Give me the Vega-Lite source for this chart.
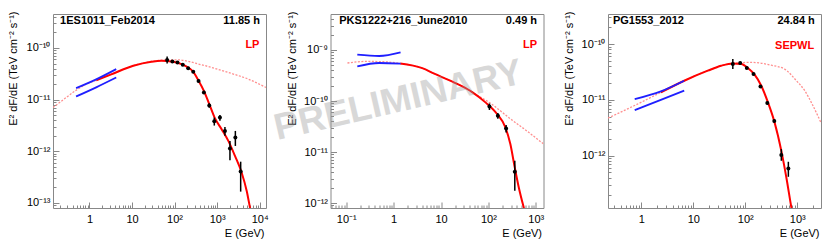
{
"$schema":"https://vega.github.io/schema/vega-lite/v6.json",
"background":"white",
"padding":{"left":6,"top":10,"right":2,"bottom":2},
"bounds":"flush",
"spacing":64.5,
"config":{"font":"Liberation Sans","view":{"stroke":"#888888","strokeWidth":1},
"axis":{"grid":false,"domain":false,"labelFont":"Liberation Sans","labelFontSize":11,"labelColor":"#000000","titleFont":"Liberation Sans","titleFontSize":11,"titleFontWeight":"normal","titleColor":"#000000","tickColor":"#888888","tickWidth":1,"labelFlush":false,"labelOverlap":false}},
"datasets":{
"pts1":[{"E":66.9,"F":5.83e-11,"lo":5.01e-11,"hi":6.84e-11},{"E":89,"F":5.47e-11,"lo":5.2e-11,"hi":5.75e-11},{"E":117,"F":5.23e-11,"lo":5.0e-11,"hi":5.45e-11},{"E":156,"F":4.72e-11,"lo":4.5e-11,"hi":4.95e-11},{"E":209,"F":4.07e-11,"lo":3.88e-11,"hi":4.27e-11},{"E":275,"F":3.46e-11,"lo":3.28e-11,"hi":3.65e-11},{"E":366,"F":2.29e-11,"lo":2.15e-11,"hi":2.44e-11},{"E":489,"F":1.38e-11,"lo":1.28e-11,"hi":1.49e-11},{"E":654,"F":7.7e-12,"lo":7.0e-12,"hi":8.5e-12},{"E":859,"F":3.83e-12,"lo":3.15e-12,"hi":4.5e-12},{"E":1165,"F":4.5e-12,"lo":3.89e-12,"hi":5.07e-12},{"E":1528,"F":2.48e-12,"lo":2.0e-12,"hi":2.97e-12},{"E":2004,"F":1.13e-12,"lo":6.7e-13,"hi":1.59e-12},{"E":2685,"F":1.85e-12,"lo":1.27e-12,"hi":2.48e-12},{"E":3580,"F":4.05e-13,"lo":1.66e-13,"hi":6.3e-13}],
"intr1":[{"E":0.139,"F":7.03e-12},{"E":0.24,"F":9.9e-12},{"E":0.493,"F":1.53e-11},{"E":0.849,"F":2.0e-11},{"E":1.46,"F":2.39e-11},{"E":5.21,"F":3.61e-11},{"E":10.7,"F":4.52e-11},{"E":49,"F":5.78e-11},{"E":111,"F":5.9e-11},{"E":431,"F":4.72e-11},{"E":1836,"F":3.35e-11},{"E":5445,"F":2.49e-11},{"E":14100,"F":1.72e-11}],
"abs1":[{"E":1.44,"F":2.37e-11},{"E":3.25,"F":3.09e-11},{"E":10.7,"F":4.52e-11},{"E":28.5,"F":5.41e-11},{"E":49.1,"F":5.65e-11},{"E":84.5,"F":5.47e-11},{"E":145.5,"F":4.88e-11},{"E":209,"F":4.19e-11},{"E":275,"F":3.46e-11},{"E":360,"F":2.39e-11},{"E":489,"F":1.48e-11},{"E":655,"F":8.18e-12},{"E":887,"F":4.38e-12},{"E":1276,"F":2.68e-12},{"E":1836,"F":1.59e-12},{"E":2630,"F":8.15e-13},{"E":3784,"F":3.86e-13},{"E":4966,"F":1.71e-13},{"E":5940,"F":8.1e-14},{"E":6510,"F":5.6e-14}],
"lat1":[{"E":0.485,"F":1.67e-11,"edge":"upper"},{"E":1.44,"F":2.47e-11,"edge":"upper"},{"E":4.26,"F":3.9e-11,"edge":"upper"},{"E":0.485,"F":1.15e-11,"edge":"lower"},{"E":1.44,"F":1.73e-11,"edge":"lower"},{"E":4.26,"F":2.68e-11,"edge":"lower"}],
"pts2":[{"E":105,"F":7.83e-11,"lo":6.67e-11,"hi":8.97e-11},{"E":158,"F":5.15e-11,"lo":4.5e-11,"hi":5.82e-11},{"E":236,"F":2.9e-11,"lo":2.42e-11,"hi":3.38e-11},{"E":360,"F":4.11e-12,"lo":1.74e-12,"hi":6.74e-12}],
"intr2":[{"E":0.106,"F":5.56e-10},{"E":0.258,"F":5.97e-10},{"E":0.578,"F":5.9e-10},{"E":1.38,"F":5.43e-10},{"E":4.02,"F":4.4e-10},{"E":7.19,"F":3.43e-10},{"E":15.6,"F":2.5e-10},{"E":35.6,"F":1.72e-10},{"E":45.4,"F":1.49e-10},{"E":120,"F":8.55e-11},{"E":290,"F":4.47e-11},{"E":653,"F":2.57e-11},{"E":1452,"F":1.44e-11}],
"abs2":[{"E":1.38,"F":5.43e-10},{"E":4.02,"F":4.4e-10},{"E":7.19,"F":3.43e-10},{"E":15.6,"F":2.5e-10},{"E":35.6,"F":1.72e-10},{"E":45.4,"F":1.49e-10},{"E":86.5,"F":9.4e-11},{"E":152,"F":5.56e-11},{"E":228,"F":3.04e-11},{"E":290,"F":1.43e-11},{"E":359,"F":4.99e-12},{"E":437,"F":2.02e-12},{"E":556,"F":8.2e-13},{"E":622,"F":5.6e-13}],
"lat2":[{"E":0.171,"F":8.08e-10,"edge":"upper"},{"E":0.493,"F":7.62e-10,"edge":"upper"},{"E":1.4,"F":8.97e-10,"edge":"upper"},{"E":0.171,"F":4.76e-10,"edge":"lower"},{"E":0.493,"F":5.56e-10,"edge":"lower"},{"E":1.4,"F":5.41e-10,"edge":"lower"}],
"pts3":[{"E":57.6,"F":4.38e-11,"lo":3.56e-11,"hi":5.38e-11},{"E":79.8,"F":4.56e-11,"lo":4.3e-11,"hi":4.8e-11},{"E":107,"F":3.71e-11,"lo":3.55e-11,"hi":3.88e-11},{"E":144,"F":2.9e-11,"lo":2.77e-11,"hi":3.03e-11},{"E":196,"F":1.74e-11,"lo":1.65e-11,"hi":1.83e-11},{"E":265,"F":8.77e-12,"lo":8.3e-12,"hi":9.3e-12},{"E":361,"F":4.17e-12,"lo":3.9e-12,"hi":4.45e-12},{"E":493,"F":1.03e-12,"lo":8.1e-13,"hi":1.31e-12},{"E":673,"F":5.9e-13,"lo":4.19e-13,"hi":7.78e-13}],
"intr3":[{"E":0.2296,"F":4.72e-12},{"E":0.726,"F":7.83e-12},{"E":2.38,"F":1.36e-11},{"E":6.7,"F":2.2e-11},{"E":19,"F":3.33e-11},{"E":57.6,"F":4.53e-11},{"E":130,"F":4.69e-11},{"E":316,"F":4.17e-11},{"E":571,"F":3.56e-11},{"E":962,"F":2.2e-11},{"E":1390,"F":1.46e-11},{"E":1958,"F":8.17e-12},{"E":2855,"F":3.9e-12}],
"abs3":[{"E":2.38,"F":1.36e-11},{"E":6.7,"F":2.2e-11},{"E":19,"F":3.33e-11},{"E":34.3,"F":4.08e-11},{"E":57.6,"F":4.49e-11},{"E":83.4,"F":4.38e-11},{"E":112,"F":3.72e-11},{"E":151,"F":2.82e-11},{"E":203,"F":1.79e-11},{"E":273,"F":8.98e-12},{"E":366,"F":3.93e-12},{"E":493,"F":1.22e-12},{"E":616,"F":4.07e-13},{"E":769,"F":1.18e-13},{"E":822,"F":8.4e-14}],
"lat3":[{"E":0.749,"F":1.03e-11,"edge":"upper"},{"E":2.38,"F":1.42e-11,"edge":"upper"},{"E":6.7,"F":2.2e-11,"edge":"upper"},{"E":0.749,"F":6.56e-12,"edge":"lower"},{"E":2.38,"F":1.0e-11,"edge":"lower"},{"E":6.7,"F":1.46e-11,"edge":"lower"}],
"info1":[{"name":"1ES1011_Feb2014","time":"11.85 h","model":"LP"}],
"info2":[{"name":"PKS1222+216_June2010","time":"0.49 h","model":"LP"}],
"info3":[{"name":"PG1553_2012","time":"24.84 h","model":"SEPWL"}],
"wm":[{"t":"PRELIMINARY"}]
},
"hconcat":[
{"width":213,"height":194,"resolve":{"axis":{"x":"independent","y":"independent"}},
"layer":[
{"data":{"name":"intr1"},"mark":{"type":"line","clip":true,"color":"#ff8f8f","strokeWidth":1.3,"strokeDash":[2,1.5],"interpolate":"monotone"},
"encoding":{"x":{"field":"E","type":"quantitative","scale":{"type":"log","domain":[0.139,14100],"nice":false},"axis":{"orient":"bottom","values":[1,10,100,1000,10000],"tickSize":-6,"labels":false,"title":null}},
"y":{"field":"F","type":"quantitative","scale":{"type":"log","domain":[8.0e-14,4.54e-10],"nice":false},"axis":{"orient":"left","values":[1e-13,1e-12,1e-11,1e-10],"tickSize":-6,"labels":false,"title":null}}}},
{"data":{"name":"abs1"},"mark":{"type":"line","clip":true,"color":"#ff0000","strokeWidth":2,"interpolate":"monotone"},
"encoding":{"x":{"field":"E","type":"quantitative","scale":{"type":"log","domain":[0.139,14100],"nice":false},"axis":{"orient":"bottom","values":[0.2,0.3,0.4,0.5,0.6,0.7,0.8,0.9,2,3,4,5,6,7,8,9,20,30,40,50,60,70,80,90,200,300,400,500,600,700,800,900,2000,3000,4000,5000,6000,7000,8000,9000],"tickSize":-3,"labels":false,"title":null}},
"y":{"field":"F","type":"quantitative","scale":{"type":"log","domain":[8.0e-14,4.54e-10],"nice":false},"axis":{"orient":"left","values":[9e-14,2e-13,3e-13,4e-13,5e-13,6e-13,7e-13,8e-13,9e-13,2e-12,3e-12,4e-12,5e-12,6e-12,7e-12,8e-12,9e-12,2e-11,3e-11,4e-11,5e-11,6e-11,7e-11,8e-11,9e-11,2e-10,3e-10,4e-10],"tickSize":-3,"labels":false,"title":null}}}},
{"data":{"name":"lat1"},"mark":{"type":"line","clip":true,"color":"#1f1fff","strokeWidth":1.8,"interpolate":"monotone"},
"encoding":{"x":{"field":"E","type":"quantitative","scale":{"type":"log","domain":[0.139,14100],"nice":false},"axis":null},
"y":{"field":"F","type":"quantitative","scale":{"type":"log","domain":[8.0e-14,4.54e-10],"nice":false},"axis":null},"detail":{"field":"edge"}}},
{"data":{"name":"pts1"},"mark":{"type":"rule","clip":true,"color":"#000000","strokeWidth":1.5},
"encoding":{"x":{"field":"E","type":"quantitative","scale":{"type":"log","domain":[0.139,14100],"nice":false},"axis":null},
"y":{"field":"lo","type":"quantitative","scale":{"type":"log","domain":[8.0e-14,4.54e-10],"nice":false},"axis":null},"y2":{"field":"hi"}}},
{"data":{"name":"pts1"},"mark":{"type":"point","filled":true,"color":"#000000","size":16,"opacity":1,"clip":true},
"encoding":{"x":{"field":"E","type":"quantitative","scale":{"type":"log","domain":[0.139,14100],"nice":false},"axis":{"orient":"bottom","values":[1,10,100,1000,10000],"ticks":false,"labelPadding":5,"labelExpr":"datum.value < 5 ? '1' : datum.value < 50 ? '10' : datum.value < 500 ? '10²' : datum.value < 5000 ? '10³' : '10⁴'","title":"E (GeV)","titleAlign":"right","titleX":211,"titleY":25,"titleBaseline":"middle"}},
"y":{"field":"F","type":"quantitative","scale":{"type":"log","domain":[8.0e-14,4.54e-10],"nice":false},"axis":{"orient":"left","values":[1e-13,1e-12,1e-11,1e-10],"ticks":false,"labelPadding":3,"labelExpr":"datum.value < 5e-13 ? '10⁻¹³' : datum.value < 5e-12 ? '10⁻¹²' : datum.value < 5e-11 ? '10⁻¹¹' : '10⁻¹⁰'","title":"E² dF/dE (TeV cm⁻² s⁻¹)","titleAngle":270,"titleAlign":"right","titleX":-40,"titleY":-3,"titleBaseline":"middle"}}}},
{"data":{"name":"info1"},"mark":{"type":"text","align":"left","baseline":"middle","fontWeight":"bold","fontSize":11,"color":"#000000"},
"encoding":{"x":{"datum":0.204,"type":"quantitative","axis":null},"y":{"datum":3.27e-10,"type":"quantitative","axis":null},"text":{"field":"name"}}},
{"data":{"name":"info1"},"mark":{"type":"text","align":"right","baseline":"middle","fontWeight":"bold","fontSize":11,"color":"#000000"},
"encoding":{"x":{"datum":10200,"type":"quantitative","axis":null},"y":{"datum":3.27e-10,"type":"quantitative","axis":null},"text":{"field":"time"}}},
{"data":{"name":"info1"},"mark":{"type":"text","align":"right","baseline":"middle","fontWeight":"bold","fontSize":11,"color":"#ff0000"},
"encoding":{"x":{"datum":9890,"type":"quantitative","axis":null},"y":{"datum":1.15e-10,"type":"quantitative","axis":null},"text":{"field":"model"}}}
]},
{"width":213,"height":194,"resolve":{"axis":{"x":"independent","y":"independent"}},
"layer":[
{"data":{"name":"intr2"},"mark":{"type":"line","clip":true,"color":"#ff8f8f","strokeWidth":1.3,"strokeDash":[2,1.5],"interpolate":"monotone"},
"encoding":{"x":{"field":"E","type":"quantitative","scale":{"type":"log","domain":[0.0465,1452],"nice":false},"axis":{"orient":"bottom","values":[0.1,1,10,100,1000],"tickSize":-6,"labels":false,"title":null}},
"y":{"field":"F","type":"quantitative","scale":{"type":"log","domain":[7.98e-13,5.08e-9],"nice":false},"axis":{"orient":"left","values":[1e-12,1e-11,1e-10,1e-9],"tickSize":-6,"labels":false,"title":null}}}},
{"data":{"name":"abs2"},"mark":{"type":"line","clip":true,"color":"#ff0000","strokeWidth":2,"interpolate":"monotone"},
"encoding":{"x":{"field":"E","type":"quantitative","scale":{"type":"log","domain":[0.0465,1452],"nice":false},"axis":{"orient":"bottom","values":[0.05,0.06,0.07,0.08,0.09,0.2,0.3,0.4,0.5,0.6,0.7,0.8,0.9,2,3,4,5,6,7,8,9,20,30,40,50,60,70,80,90,200,300,400,500,600,700,800,900],"tickSize":-3,"labels":false,"title":null}},
"y":{"field":"F","type":"quantitative","scale":{"type":"log","domain":[7.98e-13,5.08e-9],"nice":false},"axis":{"orient":"left","values":[9e-13,2e-12,3e-12,4e-12,5e-12,6e-12,7e-12,8e-12,9e-12,2e-11,3e-11,4e-11,5e-11,6e-11,7e-11,8e-11,9e-11,2e-10,3e-10,4e-10,5e-10,6e-10,7e-10,8e-10,9e-10,2e-9,3e-9,4e-9,5e-9],"tickSize":-3,"labels":false,"title":null}}}},
{"data":{"name":"lat2"},"mark":{"type":"line","clip":true,"color":"#1f1fff","strokeWidth":1.8,"interpolate":"monotone"},
"encoding":{"x":{"field":"E","type":"quantitative","scale":{"type":"log","domain":[0.0465,1452],"nice":false},"axis":null},
"y":{"field":"F","type":"quantitative","scale":{"type":"log","domain":[7.98e-13,5.08e-9],"nice":false},"axis":null},"detail":{"field":"edge"}}},
{"data":{"name":"pts2"},"mark":{"type":"rule","clip":true,"color":"#000000","strokeWidth":1.5},
"encoding":{"x":{"field":"E","type":"quantitative","scale":{"type":"log","domain":[0.0465,1452],"nice":false},"axis":null},
"y":{"field":"lo","type":"quantitative","scale":{"type":"log","domain":[7.98e-13,5.08e-9],"nice":false},"axis":null},"y2":{"field":"hi"}}},
{"data":{"name":"pts2"},"mark":{"type":"point","filled":true,"color":"#000000","size":16,"opacity":1,"clip":true},
"encoding":{"x":{"field":"E","type":"quantitative","scale":{"type":"log","domain":[0.0465,1452],"nice":false},"axis":{"orient":"bottom","values":[0.1,1,10,100,1000],"ticks":false,"labelPadding":5,"labelExpr":"datum.value < 0.5 ? '10⁻¹' : datum.value < 5 ? '1' : datum.value < 50 ? '10' : datum.value < 500 ? '10²' : '10³'","title":"E (GeV)","titleAlign":"right","titleX":211,"titleY":25,"titleBaseline":"middle"}},
"y":{"field":"F","type":"quantitative","scale":{"type":"log","domain":[7.98e-13,5.08e-9],"nice":false},"axis":{"orient":"left","values":[1e-12,1e-11,1e-10,1e-9],"ticks":false,"labelPadding":3,"labelExpr":"datum.value < 5e-12 ? '10⁻¹²' : datum.value < 5e-11 ? '10⁻¹¹' : datum.value < 5e-10 ? '10⁻¹⁰' : '10⁻⁹'","title":"E² dF/dE (TeV cm⁻² s⁻¹)","titleAngle":270,"titleAlign":"right","titleX":-38,"titleY":-3,"titleBaseline":"middle"}}}},
{"data":{"name":"info2"},"mark":{"type":"text","align":"left","baseline":"middle","fontWeight":"bold","fontSize":11,"color":"#000000"},
"encoding":{"x":{"datum":0.0709,"type":"quantitative","axis":null},"y":{"datum":3.64e-9,"type":"quantitative","axis":null},"text":{"field":"name"}}},
{"data":{"name":"info2"},"mark":{"type":"text","align":"right","baseline":"middle","fontWeight":"bold","fontSize":11,"color":"#000000"},
"encoding":{"x":{"datum":1060,"type":"quantitative","axis":null},"y":{"datum":3.64e-9,"type":"quantitative","axis":null},"text":{"field":"time"}}},
{"data":{"name":"info2"},"mark":{"type":"text","align":"right","baseline":"middle","fontWeight":"bold","fontSize":11,"color":"#ff0000"},
"encoding":{"x":{"datum":1060,"type":"quantitative","axis":null},"y":{"datum":1.27e-9,"type":"quantitative","axis":null},"text":{"field":"model"}}},
{"data":{"name":"wm"},"mark":{"type":"text","align":"center","baseline":"middle","fontSize":37,"fontWeight":"bold","angle":347,"color":"#9a9a9a","opacity":0.38},
"encoding":{"x":{"datum":1.26,"type":"quantitative","axis":null},"y":{"datum":1.01e-10,"type":"quantitative","axis":null},"text":{"field":"t"}}}
]},
{"width":213,"height":194,"resolve":{"axis":{"x":"independent","y":"independent"}},
"layer":[
{"data":{"name":"intr3"},"mark":{"type":"line","clip":true,"color":"#ff8f8f","strokeWidth":1.3,"strokeDash":[2,1.5],"interpolate":"monotone"},
"encoding":{"x":{"field":"E","type":"quantitative","scale":{"type":"log","domain":[0.2296,2855],"nice":false},"axis":{"orient":"bottom","values":[1,10,100,1000],"tickSize":-6,"labels":false,"title":null}},
"y":{"field":"F","type":"quantitative","scale":{"type":"log","domain":[1.156e-13,3.45e-10],"nice":false},"axis":{"orient":"left","values":[1e-12,1e-11,1e-10],"tickSize":-6,"labels":false,"title":null}}}},
{"data":{"name":"abs3"},"mark":{"type":"line","clip":true,"color":"#ff0000","strokeWidth":2,"interpolate":"monotone"},
"encoding":{"x":{"field":"E","type":"quantitative","scale":{"type":"log","domain":[0.2296,2855],"nice":false},"axis":{"orient":"bottom","values":[0.3,0.4,0.5,0.6,0.7,0.8,0.9,2,3,4,5,6,7,8,9,20,30,40,50,60,70,80,90,200,300,400,500,600,700,800,900,2000],"tickSize":-3,"labels":false,"title":null}},
"y":{"field":"F","type":"quantitative","scale":{"type":"log","domain":[1.156e-13,3.45e-10],"nice":false},"axis":{"orient":"left","values":[2e-13,3e-13,4e-13,5e-13,6e-13,7e-13,8e-13,9e-13,2e-12,3e-12,4e-12,5e-12,6e-12,7e-12,8e-12,9e-12,2e-11,3e-11,4e-11,5e-11,6e-11,7e-11,8e-11,9e-11,2e-10,3e-10],"tickSize":-3,"labels":false,"title":null}}}},
{"data":{"name":"lat3"},"mark":{"type":"line","clip":true,"color":"#1f1fff","strokeWidth":1.8,"interpolate":"monotone"},
"encoding":{"x":{"field":"E","type":"quantitative","scale":{"type":"log","domain":[0.2296,2855],"nice":false},"axis":null},
"y":{"field":"F","type":"quantitative","scale":{"type":"log","domain":[1.156e-13,3.45e-10],"nice":false},"axis":null},"detail":{"field":"edge"}}},
{"data":{"name":"pts3"},"mark":{"type":"rule","clip":true,"color":"#000000","strokeWidth":1.5},
"encoding":{"x":{"field":"E","type":"quantitative","scale":{"type":"log","domain":[0.2296,2855],"nice":false},"axis":null},
"y":{"field":"lo","type":"quantitative","scale":{"type":"log","domain":[1.156e-13,3.45e-10],"nice":false},"axis":null},"y2":{"field":"hi"}}},
{"data":{"name":"pts3"},"mark":{"type":"point","filled":true,"color":"#000000","size":16,"opacity":1,"clip":true},
"encoding":{"x":{"field":"E","type":"quantitative","scale":{"type":"log","domain":[0.2296,2855],"nice":false},"axis":{"orient":"bottom","values":[1,10,100,1000],"ticks":false,"labelPadding":5,"labelExpr":"datum.value < 5 ? '1' : datum.value < 50 ? '10' : datum.value < 500 ? '10²' : '10³'","title":"E (GeV)","titleAlign":"right","titleX":211,"titleY":25,"titleBaseline":"middle"}},
"y":{"field":"F","type":"quantitative","scale":{"type":"log","domain":[1.156e-13,3.45e-10],"nice":false},"axis":{"orient":"left","values":[1e-12,1e-11,1e-10],"ticks":false,"labelPadding":3,"labelExpr":"datum.value < 5e-12 ? '10⁻¹²' : datum.value < 5e-11 ? '10⁻¹¹' : '10⁻¹⁰'","title":"E² dF/dE (TeV cm⁻² s⁻¹)","titleAngle":270,"titleAlign":"right","titleX":-39,"titleY":-3,"titleBaseline":"middle"}}}},
{"data":{"name":"info3"},"mark":{"type":"text","align":"left","baseline":"middle","fontWeight":"bold","fontSize":11,"color":"#000000"},
"encoding":{"x":{"datum":0.286,"type":"quantitative","axis":null},"y":{"datum":2.54e-10,"type":"quantitative","axis":null},"text":{"field":"name"}}},
{"data":{"name":"info3"},"mark":{"type":"text","align":"right","baseline":"middle","fontWeight":"bold","fontSize":11,"color":"#000000"},
"encoding":{"x":{"datum":2168,"type":"quantitative","axis":null},"y":{"datum":2.54e-10,"type":"quantitative","axis":null},"text":{"field":"time"}}},
{"data":{"name":"info3"},"mark":{"type":"text","align":"right","baseline":"middle","fontWeight":"bold","fontSize":11,"color":"#ff0000"},
"encoding":{"x":{"datum":2110,"type":"quantitative","axis":null},"y":{"datum":9.33e-11,"type":"quantitative","axis":null},"text":{"field":"model"}}}
]}
]
}
